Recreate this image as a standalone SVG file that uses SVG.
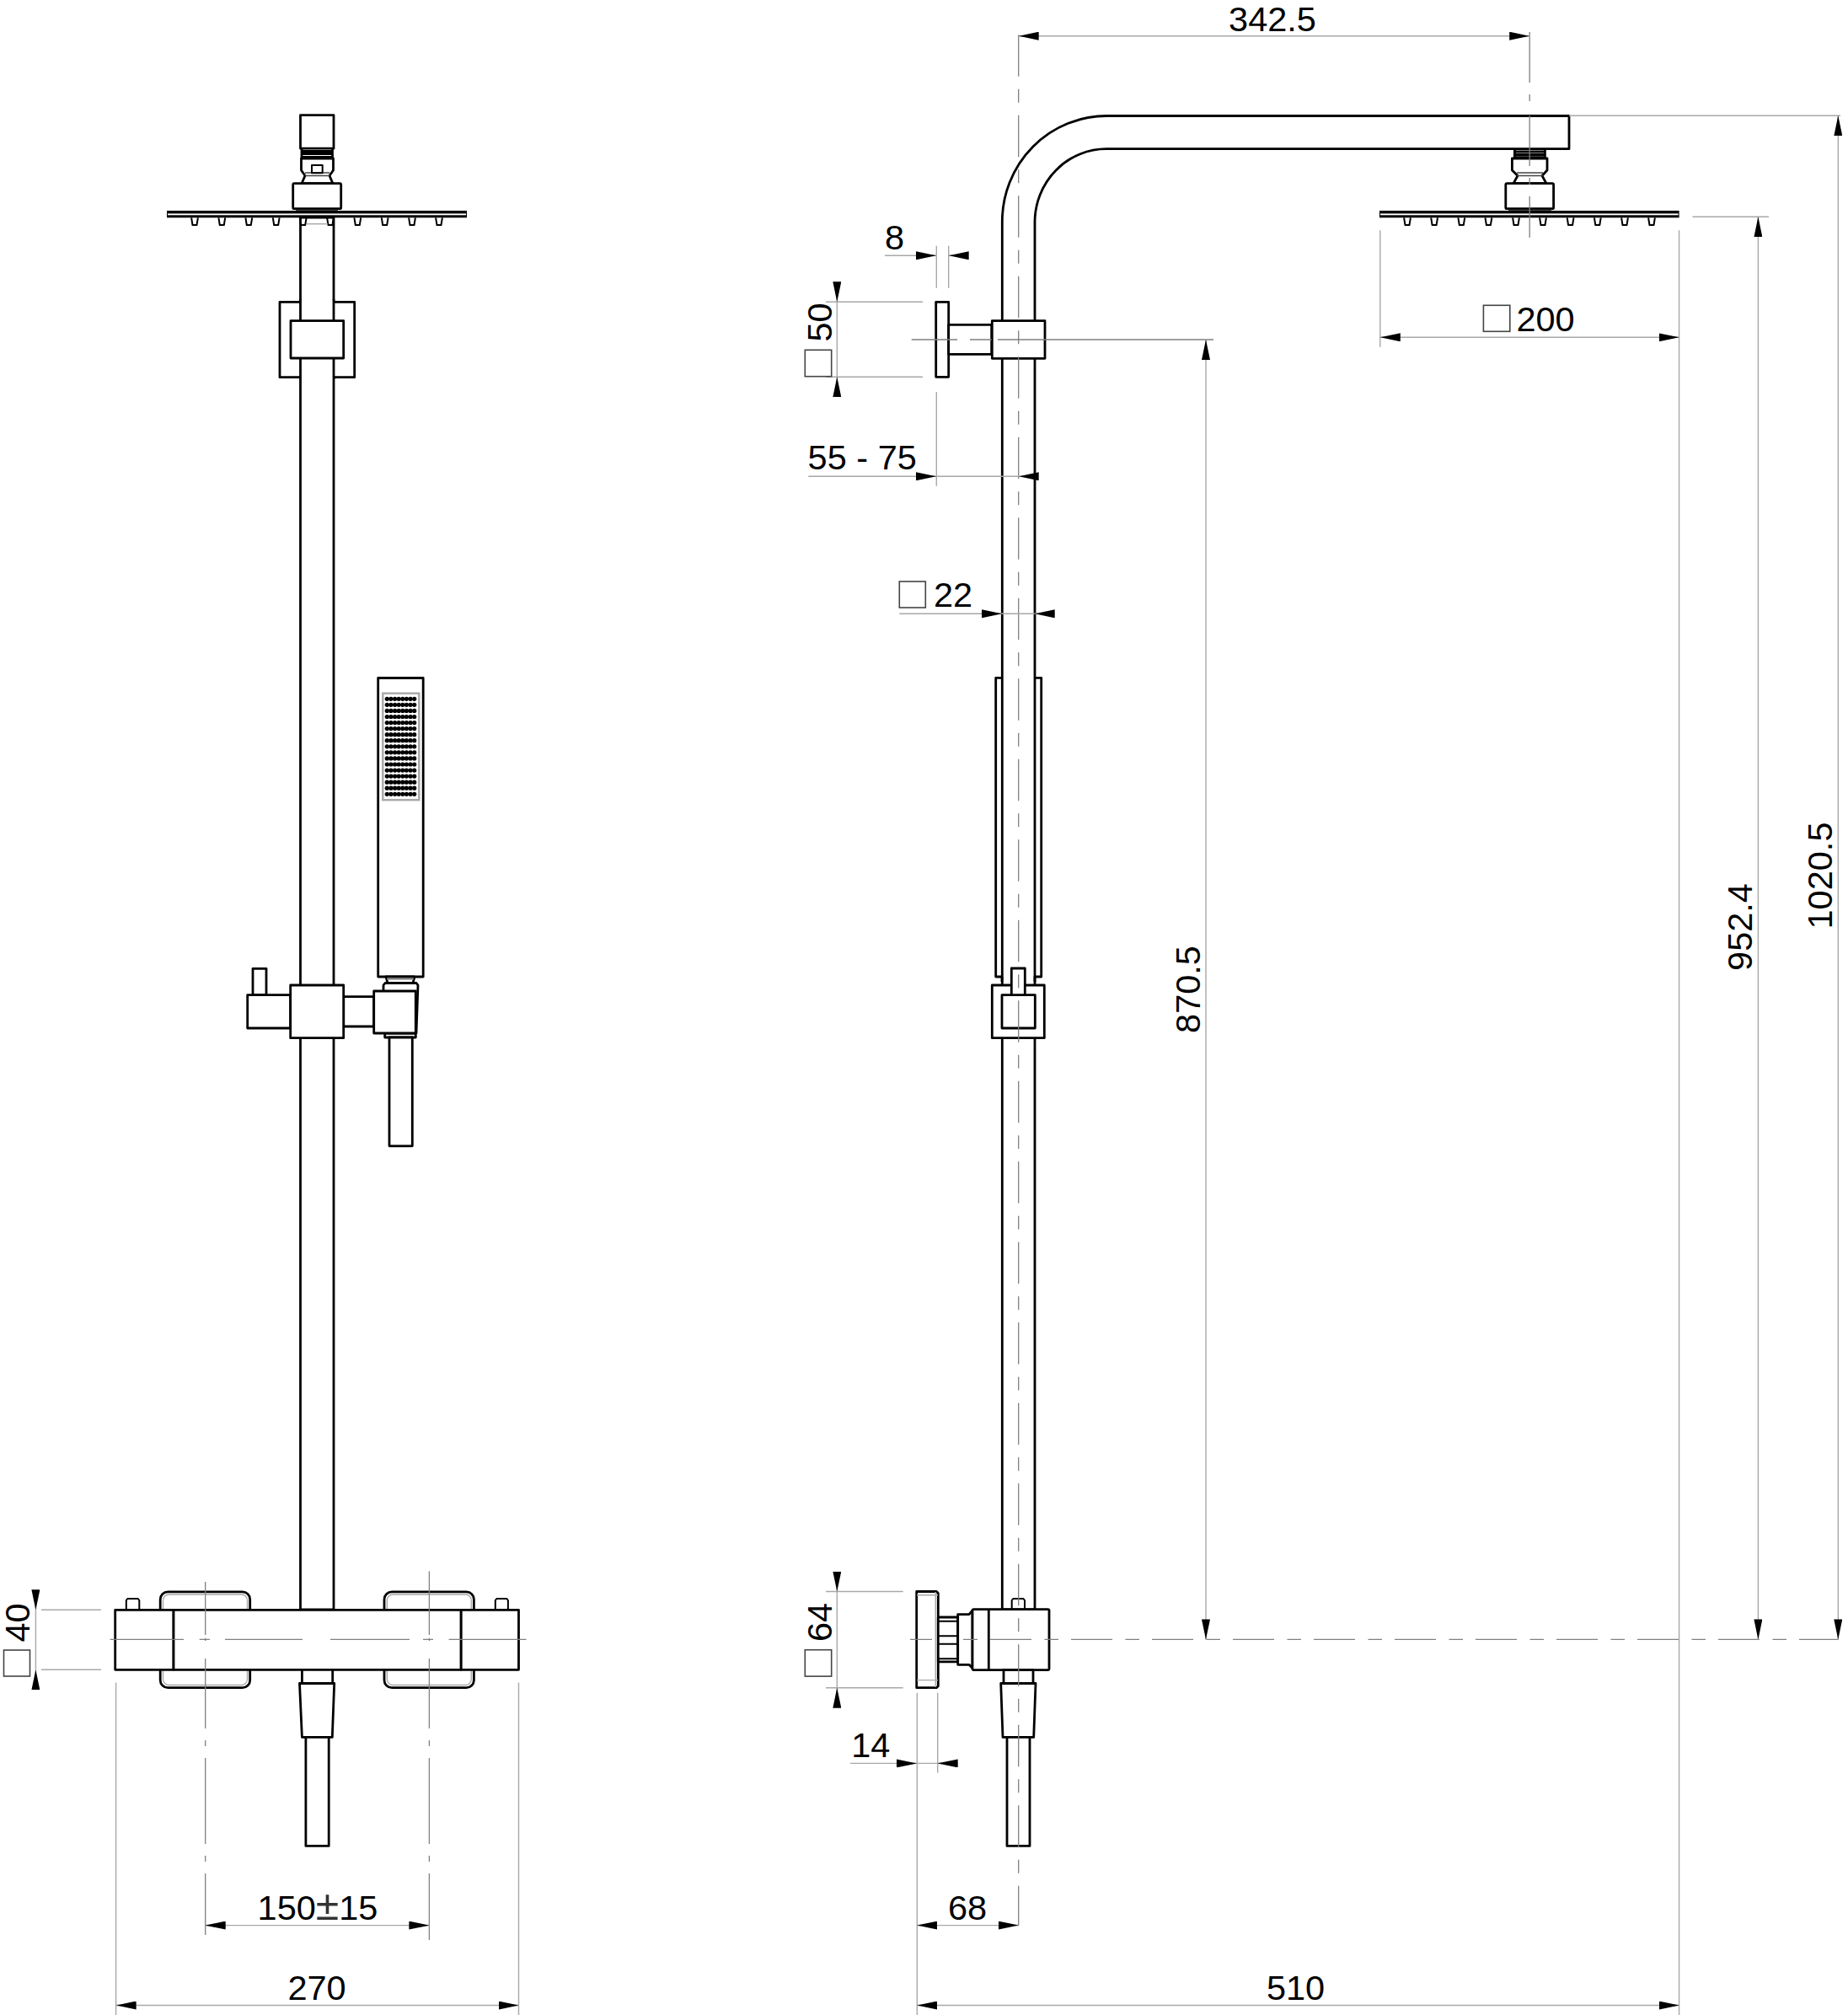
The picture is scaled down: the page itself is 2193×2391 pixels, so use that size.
<svg xmlns="http://www.w3.org/2000/svg" xmlns:xlink="http://www.w3.org/1999/xlink" width="2193" height="2391" viewBox="0 0 2193 2391">
<style>
.b{fill:#fff;stroke:#000;stroke-width:2.8;stroke-linejoin:round}
.n{fill:none;stroke:#000;stroke-width:2.8;stroke-linejoin:round}
.t{fill:none;stroke:#000;stroke-width:2;stroke-linejoin:round}
.g{fill:none;stroke:#a8a8a8;stroke-width:1.4}
.s{fill:none;stroke:#444;stroke-width:1.6}
.c{fill:none;stroke:#808080;stroke-width:1.3}
.d{fill:none;stroke:#a8a8a8;stroke-width:1.4}
.a{fill:none;stroke:#a8a8a8;stroke-width:1.4;marker-end:url(#arr)}
text{font-family:"Liberation Sans",Arial,sans-serif;font-size:41.500px;fill:#000;text-anchor:middle}
</style>
<defs>
<marker id="arr" markerUnits="userSpaceOnUse" viewBox="0 0 24 10" refX="24" refY="5" markerWidth="24" markerHeight="10" orient="auto"><path d="M0 0L24 5L0 10z" fill="#000"/></marker>
<path id="noz" d="M-3.900 0L-2.500 8.700H2.500L3.900 0" class="t"/>
<circle id="dot" r="2.600" fill="#000"/>
<g id="row"><use xlink:href="#dot" x="459.300"/><use xlink:href="#dot" x="463.900"/><use xlink:href="#dot" x="468.600"/><use xlink:href="#dot" x="473.200"/><use xlink:href="#dot" x="477.800"/><use xlink:href="#dot" x="482.400"/><use xlink:href="#dot" x="487.100"/><use xlink:href="#dot" x="491.700"/></g>
</defs>

<g id="left-rail"><rect class="b" x="356.500" y="258" width="39.500" height="1652"/></g>
<g id="left-head">
<rect class="b" x="356.500" y="136.700" width="39.500" height="39.500"/>
<path class="n" d="M358 176V186.500H394.500V176M358 179.500H394.500M358 182.500H394.500"/>
<path class="b" d="M357.500 188H395.500V202L391 208.500L395 217.700H358L362 208.500L357.500 202Z"/>
<path class="s" d="M362 208.500H391M362 205H391"/>
<rect class="t" x="370" y="196" width="12.700" height="9.300"/>
<rect class="b" x="347.700" y="217.700" width="57" height="30" rx="1.500"/>
<path class="s" d="M351 249.500H401"/>
<rect x="198" y="250" width="356" height="8.300" fill="#000"/>
<rect x="199" y="253.400" width="354" height="1.900" fill="#fff"/>
<use xlink:href="#noz" x="231" y="258.300"/><use xlink:href="#noz" x="263.300" y="258.300"/><use xlink:href="#noz" x="295.300" y="258.300"/><use xlink:href="#noz" x="327.700" y="258.300"/><use xlink:href="#noz" x="359.700" y="258.300"/><use xlink:href="#noz" x="392" y="258.300"/><use xlink:href="#noz" x="424.300" y="258.300"/><use xlink:href="#noz" x="456.700" y="258.300"/><use xlink:href="#noz" x="489" y="258.300"/><use xlink:href="#noz" x="521" y="258.300"/>
<path class="g" d="M364 265.700H389"/>
</g>
<g id="left-bracket">
<rect class="b" x="332" y="358.300" width="88.700" height="89.400"/>
<rect x="356.500" y="356" width="39.500" height="94" fill="#fff"/>
<path class="n" d="M356.500 355V450M396 355V450"/>
<rect class="b" x="345" y="380.700" width="62.700" height="44.300"/>
</g>
<g id="hand-shower">
<rect class="b" x="448.700" y="804.500" width="53.500" height="354.500"/>
<rect x="454.300" y="822.700" width="43" height="126.500" fill="none" stroke="#aaa" stroke-width="2.500"/>
<use xlink:href="#row" y="829.300"/><use xlink:href="#row" y="836.360"/><use xlink:href="#row" y="843.420"/><use xlink:href="#row" y="850.480"/><use xlink:href="#row" y="857.540"/><use xlink:href="#row" y="864.600"/><use xlink:href="#row" y="871.660"/><use xlink:href="#row" y="878.720"/><use xlink:href="#row" y="885.800"/><use xlink:href="#row" y="892.860"/><use xlink:href="#row" y="899.920"/><use xlink:href="#row" y="906.980"/><use xlink:href="#row" y="914.040"/><use xlink:href="#row" y="921.100"/><use xlink:href="#row" y="928.160"/><use xlink:href="#row" y="935.220"/><use xlink:href="#row" y="942.300"/>
<path class="b" d="M458 1159L460 1166.500H490L492 1159Z"/>
<path d="M459 1161.500H491" stroke="#777" stroke-width="2"/>
<path class="b" d="M455 1176V1169L457 1166.500H494L496 1169L494 1226H456.700V1231H493.300V1226"/>
<rect class="b" x="462" y="1231" width="27.300" height="128.800"/>
<rect class="b" x="407.700" y="1182.600" width="36" height="35.400"/>
<rect class="b" x="443.700" y="1176" width="49.600" height="50"/>
</g>
<g id="left-slider">
<rect class="b" x="300" y="1149.300" width="16" height="31.400"/>
<rect class="b" x="293.700" y="1180.700" width="51" height="39.300"/>
<rect class="b" x="344.700" y="1169" width="63" height="62.700"/>
</g>
<g id="left-mixer">
<rect class="b" x="190.200" y="1888.900" width="106.500" height="113.800" rx="9"/>
<rect class="g" x="193.500" y="1892" width="100" height="107.500" rx="7"/>
<rect class="b" x="456" y="1888.900" width="106.400" height="113.800" rx="9"/>
<rect class="g" x="459.300" y="1892" width="100" height="107.500" rx="7"/>
<path class="t" d="M149.800 1910V1899L151.300 1897H163.800L165.300 1899V1910M587.800 1910V1899L589.300 1897H601.400L602.900 1899V1910"/>
<rect class="b" x="136.700" y="1910.300" width="69.300" height="71"/>
<rect class="b" x="547" y="1910.300" width="68.500" height="71"/>
<rect class="b" x="206" y="1910.300" width="341" height="71"/>
<rect class="b" x="358.400" y="1981.300" width="36.300" height="16.200"/>
<path class="b" d="M355.500 1997.500H396.700L394.300 2061.400H358.400Z"/>
<rect class="b" x="362.900" y="2061.400" width="27.300" height="129"/>
</g>

<g id="right-arm"><path class="b" d="M1189.300 1910V263A124 125.500 0 0 1 1313.300 137.500H1862V176.700H1313A85 87 0 0 0 1228 263V1910Z"/></g>
<g id="right-head">
<path class="n" d="M1797.400 176.700V186.700H1833.400V176.700M1798 180H1833M1798 183.500H1833"/>
<path class="b" d="M1794.400 188H1836V202L1830 208.500L1835 217.700H1796L1801 208.500L1794.400 202Z"/>
<path class="s" d="M1800 205H1831M1800 208.500H1831"/>
<rect class="b" x="1786.800" y="217.700" width="56.800" height="30" rx="1.500"/>
<path class="s" d="M1790 249.500H1841"/>
<rect x="1637" y="250" width="355.600" height="8.300" fill="#000"/>
<rect x="1638" y="253.400" width="353.600" height="1.900" fill="#fff"/>
<use xlink:href="#noz" x="1670" y="258.300"/><use xlink:href="#noz" x="1702.100" y="258.300"/><use xlink:href="#noz" x="1734.300" y="258.300"/><use xlink:href="#noz" x="1766.400" y="258.300"/><use xlink:href="#noz" x="1799" y="258.300"/><use xlink:href="#noz" x="1831" y="258.300"/><use xlink:href="#noz" x="1863.600" y="258.300"/><use xlink:href="#noz" x="1895.800" y="258.300"/><use xlink:href="#noz" x="1928" y="258.300"/><use xlink:href="#noz" x="1960" y="258.300"/>
</g>
<g id="right-bracket">
<rect class="b" x="1110.700" y="358.300" width="15" height="89"/>
<rect class="b" x="1125.700" y="385.300" width="51" height="35"/>
<rect class="b" x="1177.300" y="380.700" width="62.700" height="44.600"/>
</g>
<g id="right-handset">
<path class="n" d="M1189 804.300H1181.700V1159H1189M1189 1159V1165M1228 804.300H1235.700V1159H1228V1165"/>
</g>
<g id="right-slider">
<rect class="b" x="1177.300" y="1169" width="62" height="62.700"/>
<rect class="b" x="1189" y="1180.700" width="39.300" height="39.300"/>
<rect class="b" x="1200.300" y="1149" width="16" height="31.700"/>
</g>
<g id="right-mixer">
<path class="t" d="M1200.700 1910V1899L1202.200 1897H1214.500L1216 1899V1910"/>
<path class="b" d="M1087.700 1888.500H1111.300L1113.300 1890.500V2000.700L1111.300 2002.700H1087.700Z"/>
<path class="g" d="M1088 1892.700H1113M1088 1993.600H1113M1110.300 1889V2002"/>
<rect class="b" x="1113.300" y="1919" width="23.400" height="52.800"/>
<path class="t" d="M1114 1923.700H1136M1114 1941.200H1136M1114 1950.700H1136M1114 1968.300H1136"/>
<path class="b" d="M1136.700 1915.600H1150L1154 1911V1979.500L1150 1975.300H1136.700Z"/>
<rect class="b" x="1154" y="1909.600" width="91" height="72" rx="1.500"/>
<path class="n" d="M1173.300 1909.600V1981.600"/>
<rect class="b" x="1191" y="1981.600" width="35" height="15.900"/>
<path class="b" d="M1187.700 1997.500H1229L1226.700 2061.400H1190Z"/>
<rect class="b" x="1195" y="2061.400" width="27" height="129"/>
</g>

<g id="centerlines">
<path class="c" d="M130.600 1945.400H218M236.700 1945.400H249M267 1945.400H359M392 1945.400H486M502 1945.400H514M532.600 1945.400H624.500"/>
<path class="c" d="M243.700 1877V1940M243.700 1943.700V1947M243.700 1968V2051M243.700 2065V2072M243.700 2086V2188M243.700 2202V2209M243.700 2223V2296"/>
<path class="c" d="M509.400 1864.600V1940M509.400 1943.700V1947M509.400 1968V2051M509.400 2065V2072M509.400 2086V2188M509.400 2202V2209M509.400 2223V2302"/>
<path class="c" stroke-dasharray="49.500 15 16 15" d="M1208.700 41.200V2285"/>
<path class="c" stroke-dasharray="49 15.500 16.500 15" d="M1175 1945.400H2182"/>
<path class="c" d="M1080 1945.400H1106M1143 1945.400H1160"/>
<path class="c" d="M1081.700 403H1136M1151 403H1176.700M1184 403H1440"/>
<path class="c" stroke-dasharray="60 14 8 14" d="M1815.200 38V122M1815.200 137V282"/>
</g>

<g id="dimensions">
<path class="d" d="M49 1910.300H120M49 1981.300H120M42.400 1910.300V1981.300"/>
<line class="a" x1="42.400" y1="1886.700" x2="42.400" y2="1910.300"/>
<line class="a" x1="42.400" y1="2004.500" x2="42.400" y2="1981.300"/>
<rect class="s" x="4.500" y="1958" width="31" height="31"/>
<text transform="translate(35,1925.500) rotate(-90)">40</text>
<path class="d" d="M243.700 2284.600H509.400M137.600 1996.400V2391M615.500 1996.400V2391M137.600 2379.500H615.500"/>
<line class="a" x1="267.400" y1="2284.600" x2="243.700" y2="2284.600"/>
<line class="a" x1="485.700" y1="2284.600" x2="509.400" y2="2284.600"/>
<line class="a" x1="161" y1="2379.500" x2="137.600" y2="2379.500"/>
<line class="a" x1="592" y1="2379.500" x2="615.500" y2="2379.500"/>
<text x="377" y="2277.600">150<tspan font-size="50" fill="#333">±</tspan>15</text>
<text x="376" y="2372.500">270</text>
<path class="d" d="M1208.700 42.700H1815.200"/>
<line class="a" x1="1232" y1="42.700" x2="1208.700" y2="42.700"/>
<line class="a" x1="1792" y1="42.700" x2="1815.200" y2="42.700"/>
<text x="1510" y="36.600">342.5</text>
<path class="d" d="M1862 137.300H2184M2181.300 137.300V1945.400M2008.500 257.300H2099M2086.400 257.300V1945.400M1431 403V1945.400"/>
<line class="a" x1="2181.300" y1="160.700" x2="2181.300" y2="137.300"/>
<line class="a" x1="2181.300" y1="1922" x2="2181.300" y2="1945.400"/>
<line class="a" x1="2086.400" y1="281.700" x2="2086.400" y2="257.300"/>
<line class="a" x1="2086.400" y1="1922" x2="2086.400" y2="1945.400"/>
<line class="a" x1="1431" y1="427" x2="1431" y2="403"/>
<line class="a" x1="1431" y1="1922" x2="1431" y2="1945.400"/>
<text transform="translate(2174,1039) rotate(-90)">1020.5</text>
<text transform="translate(2079,1100) rotate(-90)">952.4</text>
<text transform="translate(1424,1174) rotate(-90)">870.5</text>
<path class="d" d="M1637.800 273.300V411.700M1992.600 273.300V2391M1637.800 400.300H1992.600"/>
<line class="a" x1="1661.600" y1="400.300" x2="1637.800" y2="400.300"/>
<line class="a" x1="1968.800" y1="400.300" x2="1992.600" y2="400.300"/>
<rect class="s" x="1760.400" y="362.300" width="31.400" height="31"/>
<text x="1834" y="392.500">200</text>
<path class="d" d="M1111.300 291.700V341.700M1125.700 291.700V341.700M1050 303.300H1111M1126 303.300H1149"/>
<line class="a" x1="1087.300" y1="303.300" x2="1111" y2="303.300"/>
<line class="a" x1="1149" y1="303.300" x2="1125.700" y2="303.300"/>
<text x="1061.500" y="295.700">8</text>
<path class="d" d="M980 358.300H1095M980 447.300H1095M993.300 358.300V447.300"/>
<line class="a" x1="993.300" y1="335" x2="993.300" y2="358.300"/>
<line class="a" x1="993.300" y1="470.700" x2="993.300" y2="447.300"/>
<rect class="s" x="955.300" y="415.300" width="31.400" height="31.400"/>
<text transform="translate(986.700,382.500) rotate(-90)">50</text>
<path class="d" d="M1111.300 465V576.700M959.300 565.300H1208.700"/>
<line class="a" x1="1087.300" y1="565.300" x2="1111" y2="565.300"/>
<line class="a" x1="1232" y1="565.300" x2="1208.700" y2="565.300"/>
<text x="1023.200" y="557.300">55 - 75</text>
<path class="d" d="M1067.300 728.300H1227.700"/>
<line class="a" x1="1165" y1="728.300" x2="1189" y2="728.300"/>
<line class="a" x1="1251.700" y1="728.300" x2="1227.700" y2="728.300"/>
<rect class="s" x="1067.300" y="690" width="31" height="31"/>
<text x="1131" y="720">22</text>
<path class="d" d="M980 1888.500H1071.700M980 2002.700H1071.700M993.300 1888.500V2002.700"/>
<line class="a" x1="993.300" y1="1865.300" x2="993.300" y2="1888.500"/>
<line class="a" x1="993.300" y1="2025.600" x2="993.300" y2="2002.700"/>
<rect class="s" x="955.300" y="1957.700" width="31.400" height="31.400"/>
<text transform="translate(986.700,1925) rotate(-90)">64</text>
<path class="d" d="M1088.300 2008.700V2391M1112.700 2008.700V2103.600M1009 2092.400H1136"/>
<line class="a" x1="1064.300" y1="2092.400" x2="1088" y2="2092.400"/>
<line class="a" x1="1136.700" y1="2092.400" x2="1112.700" y2="2092.400"/>
<text x="1033.300" y="2085">14</text>
<path class="d" d="M1088.300 2284.600H1208.700M1088.300 2379.500H1992.600"/>
<line class="a" x1="1111.700" y1="2284.600" x2="1088.300" y2="2284.600"/>
<line class="a" x1="1185" y1="2284.600" x2="1208.700" y2="2284.600"/>
<line class="a" x1="1111.700" y1="2379.500" x2="1088.300" y2="2379.500"/>
<line class="a" x1="1969" y1="2379.500" x2="1992.600" y2="2379.500"/>
<text x="1148" y="2277.600">68</text>
<text x="1537.500" y="2372.500">510</text>
</g>
</svg>
